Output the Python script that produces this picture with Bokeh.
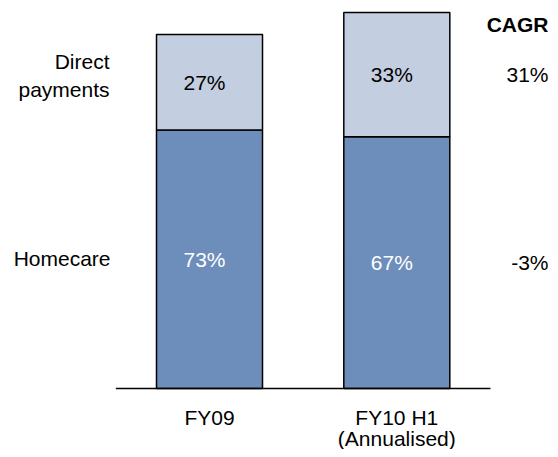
from bokeh.plotting import figure
from bokeh.models import ColumnDataSource, Range1d, Label
from bokeh.core.properties import value
from bokeh.embed import file_html
from bokeh.resources import INLINE

# ---- data ----
periods = ["FY09", "FY10 H1\n(Annualised)"]
homecare = [73.0, 71.1]          # relative volume (FY09 total = 100)
direct = [27.0, 35.1]
homecare_share = ["73%", "67%"]
direct_share = ["27%", "33%"]
series_names = ["Homecare", "Direct\npayments"]
cagr_title = "CAGR"
cagr_values = ["-3%", "31%"]   # Homecare, Direct payments

FONT = value("Liberation Sans")
FS = "21px"
DARK = "#6D8DBA"
LIGHT = "#C4CEE1"

W, H = 550, 449
xpos = list(range(len(periods)))
tops = [h + d for h, d in zip(homecare, direct)]

src = ColumnDataSource(dict(
    x=xpos, home=homecare, top=tops,
    home_mid=[h / 2 for h in homecare],
    dir_mid=[h + d / 2 for h, d in zip(homecare, direct)],
    home_lab=homecare_share, dir_lab=direct_share, period=periods,
))

p = figure(width=W, height=H, output_backend="svg", toolbar_location=None,
           x_range=Range1d(-1.1159, 1.8206), y_range=Range1d(-17.23, 109.6),
           min_border=0, min_border_left=0, min_border_right=0,
           min_border_top=0, min_border_bottom=0)
p.xaxis.visible = False
p.yaxis.visible = False
p.grid.visible = False
p.outline_line_color = None
p.background_fill_color = "white"

BW = 0.566
p.vbar(x="x", bottom=0, top="home", width=BW, source=src,
       fill_color=DARK, line_color="black", line_width=1.5)
p.vbar(x="x", bottom="home", top="top", width=BW, source=src,
       fill_color=LIGHT, line_color="black", line_width=1.5)

# baseline
p.segment(x0=[-0.5], y0=[0], x1=[1.5], y1=[0], line_color="black", line_width=1.5)

# in-bar labels
p.text(x="x", y="home_mid", text="home_lab", source=src, text_font=FONT,
       text_font_size=FS, text_color="white", text_align="center",
       text_baseline="middle", x_offset=-5)
p.text(x="x", y="dir_mid", text="dir_lab", source=src, text_font=FONT,
       text_font_size=FS, text_color="black", text_align="center",
       text_baseline="middle", x_offset=-5)

# category labels
p.text(x="x", y=0, text="period", source=src, text_font=FONT,
       text_font_size=FS, text_color="black", text_align="center",
       text_baseline="top", y_offset=17, text_line_height=0.95)

def lab(x, y, text, bold=False, lh=1.2):
    p.add_layout(Label(x=x, y=H - y, x_units="screen", y_units="screen",
                       text=text, text_font="Liberation Sans",
                       text_font_size=FS, text_color="black",
                       text_font_style="bold" if bold else "normal",
                       text_align="right", text_baseline="middle",
                       text_line_height=lh))

# series names on the left
lab(109, 75, series_names[1], lh=1.22)
lab(110, 258, series_names[0])

# CAGR column
lab(548, 24, cagr_title, bold=True)
lab(548, 74, cagr_values[1])
lab(548, 262, cagr_values[0])

open("out.html", "w").write(file_html(p, INLINE))
